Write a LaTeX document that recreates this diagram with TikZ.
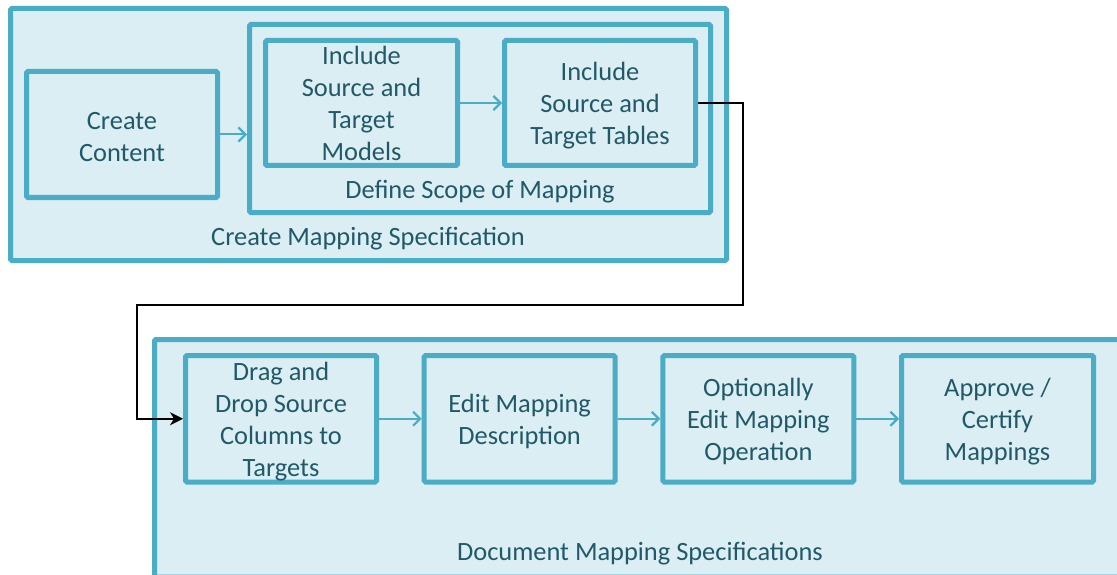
\documentclass[tikz,border=0pt]{standalone}
\usepackage{fontspec}
\setmainfont{Carlito}
\usetikzlibrary{arrows.meta}

\definecolor{frame}{HTML}{4BACC6}
\definecolor{panel}{HTML}{DAEEF3}
\definecolor{ink}{HTML}{215968}

\tikzset{
  stepbox/.style={draw=frame, fill=panel, line width=5pt, rounded corners=1.5pt,
    inner sep=0pt},
  groupbox/.style={stepbox},
  steptext/.style={text=ink, align=center, inner sep=0pt, yshift=-3pt,
    font=\fontsize{26.4}{32}\selectfont},
  grouplabel/.style={text=ink, anchor=base, inner sep=0pt,
    font=\fontsize{26.4}{32}\selectfont},
  flow/.style={draw=frame, line width=2pt,
    -{Straight Barb[length=7pt,width=14pt,line width=2.2pt]}},
  jump/.style={draw=black, line width=1.5pt,
    -{Stealth[length=13pt,width=13pt,inset=4pt]}},
}

\begin{document}
\begin{tikzpicture}[x=1pt, y=-1pt]
  \useasboundingbox (0,0) rectangle (1117,575);
  \fill[white] (0,0) rectangle (1117,575);
  \clip (0,0) rectangle (1117,575);

  % upper group: create mapping specification
  \node[groupbox, minimum width=716pt, minimum height=252pt] (ocms) at (368.5,134.5) {};
  \node[stepbox, minimum width=191pt, minimum height=126pt] (cc) at (122,134.5) {};
  \node[steptext] (cctext) at (cc) {Create\\Content};
  \node[groupbox, minimum width=461pt, minimum height=188pt] (dsm) at (480,118.5) {};
  \node[stepbox, minimum width=192pt, minimum height=125pt] (ism) at (361.5,103) {};
  \node[steptext, yshift=3pt] (ismtext) at (ism) {Include\\Source and\\Target\\Models};
  \node[stepbox, minimum width=191pt, minimum height=125pt] (ist) at (600,103) {};
  \node[steptext] (isttext) at (ist) {Include\\Source and\\Target Tables};
  \node[grouplabel] (dsmlabel) at (480,198) {Define Scope of Mapping};
  \node[grouplabel] (ocmslabel) at (368,245.5) {Create Mapping Specification};

  % lower group: document mapping specifications
  \node[groupbox, minimum width=972.5pt, minimum height=237.5pt] (dms) at (640.75,458.25) {};
  \node[stepbox, minimum width=191pt, minimum height=126.5pt] (drag) at (281,418.75) {};
  \node[steptext] (dragtext) at (drag) {Drag and\\Drop Source\\Columns to\\Targets};
  \node[stepbox, minimum width=191pt, minimum height=126.5pt] (edit) at (519.67,418.75) {};
  \node[steptext] (edittext) at (edit) {Edit Mapping\\Description};
  \node[stepbox, minimum width=191pt, minimum height=126.5pt] (opt) at (758.33,418.75) {};
  \node[steptext] (opttext) at (opt) {Optionally\\Edit Mapping\\Operation};
  \node[stepbox, minimum width=192pt, minimum height=126.5pt] (appr) at (997.5,418.75) {};
  \node[steptext] (apprtext) at (appr) {Approve /\\Certify\\Mappings};
  \node[grouplabel] (dmslabel) at (640,560.5) {Document Mapping Specifications};

  % flow arrows
  \draw[flow] (cc.east) -- (cc.east -| dsm.west);
  \draw[flow] (ism.east) -- (ist.west);
  \draw[flow] (drag.east) -- (edit.west);
  \draw[flow] (edit.east) -- (opt.west);
  \draw[flow] (opt.east) -- (appr.west);

  % link from the upper group to the lower group
  \coordinate (bendA) at (743,305);
  \coordinate (bendB) at (137,305);
  \draw[jump] (ist.east) -| (bendA) -- (bendB) |- (drag.west);
\end{tikzpicture}
\end{document}
